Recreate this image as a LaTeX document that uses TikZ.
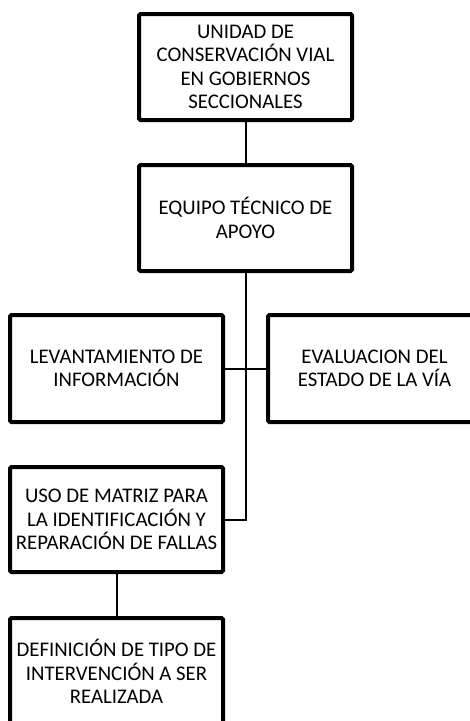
\documentclass[tikz,border=0pt]{standalone}
\usepackage{fontspec}
\setmainfont{Carlito}
\begin{document}
\begin{tikzpicture}[x=1pt,y=-1pt,
  box/.style={draw=black, line width=4pt, fill=white, rounded corners=1.5pt,
    minimum width=213pt, minimum height=106pt, inner sep=0pt, align=center,
    font=\fontsize{20.8}{23.3}\selectfont},
  link/.style={draw=black, line width=2pt}]
\useasboundingbox (0,0) rectangle (470,721);
\clip (0,0) rectangle (470,721);
\fill[white] (0,0) rectangle (470,721);
% connectors (drawn first, boxes on top)
\coordinate (b1s) at (245.5,120);
\coordinate (b2n) at (245.5,165);
\coordinate (b2s) at (245.5,271);
\coordinate (b3e) at (223,368.5);
\coordinate (b4w) at (268,368.5);
\coordinate (b5e) at (223,519.5);
\coordinate (b5s) at (116.5,572.5);
\coordinate (b6n) at (116.5,618);
\path[link] (b1s) -- (b2n);
\path[link] (b2s) -- (b2s |- b5e) -- (b5e);
\path[link] (b3e) -- (b4w);
\path[link] (b5s) -- (b6n);
% boxes
\node[box] (n1) at (245.5,67) {UNIDAD DE\\CONSERVACIÓN VIAL\\EN GOBIERNOS\\SECCIONALES};
\node[box] (n2) at (245.5,218) {EQUIPO TÉCNICO DE\\APOYO};
\node[box, minimum height=107pt] (n3) at (116.5,368.5) {LEVANTAMIENTO DE\\INFORMACIÓN};
\node[box, minimum height=107pt] (n4) at (374.5,368.5) {EVALUACION DEL\\ESTADO DE LA VÍA};
\node[box, minimum height=105pt] (n5) at (116.5,519.5) {USO DE MATRIZ PARA\\LA IDENTIFICACIÓN Y\\REPARACIÓN DE FALLAS};
\node[box, minimum height=107pt] (n6) at (116.5,671.5) {DEFINICIÓN DE TIPO DE\\INTERVENCIÓN A SER\\REALIZADA};
\end{tikzpicture}
\end{document}
